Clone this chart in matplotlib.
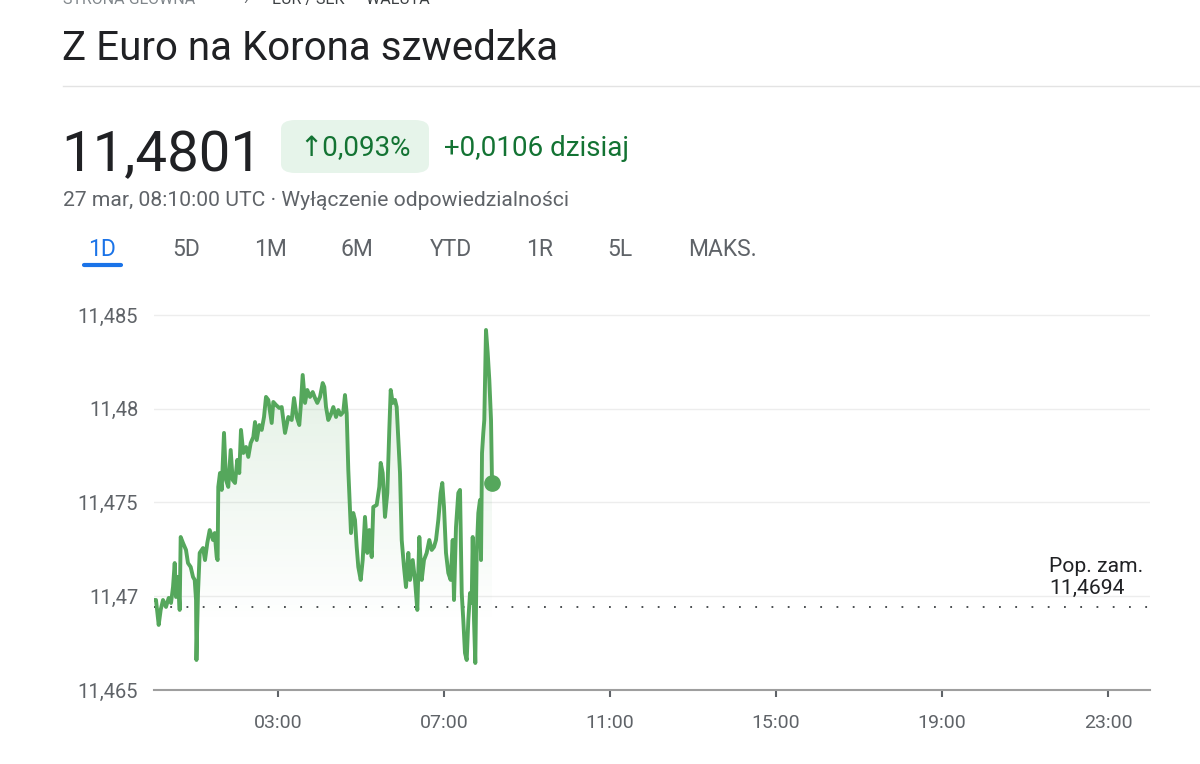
import numpy as np
import matplotlib
matplotlib.use('Agg')
import matplotlib.pyplot as plt
from matplotlib.colors import LinearSegmentedColormap
from matplotlib.patches import FancyBboxPatch

plt.rcParams['font.family'] = ['Roboto', 'DejaVu Sans']

# intraday EUR/SEK, hours since 00:00 UTC
hours = [0.012, 0.060, 0.125, 0.173, 0.229, 0.301, 0.366, 0.422, 0.470, 0.511,
         0.542, 0.590, 0.631, 0.655, 0.711, 0.783, 0.831, 0.896, 0.952, 0.993,
         1.025, 1.035, 1.072, 1.113, 1.193, 1.241, 1.296, 1.354, 1.434, 1.475,
         1.523, 1.545, 1.561, 1.602, 1.643, 1.699, 1.747, 1.802, 1.860, 1.908,
         1.964, 2.019, 2.067, 2.108, 2.164, 2.229, 2.284, 2.342, 2.405, 2.446,
         2.487, 2.549, 2.607, 2.663, 2.711, 2.766, 2.848, 2.887, 2.952, 3.031,
         3.089, 3.169, 3.248, 3.330, 3.386, 3.451, 3.513, 3.547, 3.595, 3.651,
         3.706, 3.771, 3.836, 3.892, 3.947, 4.012, 4.077, 4.116, 4.157, 4.212,
         4.270, 4.333, 4.398, 4.453, 4.511, 4.573, 4.614, 4.655, 4.694, 4.735,
         4.759, 4.776, 4.814, 4.855, 4.896, 4.935, 4.993, 5.041, 5.096, 5.152,
         5.200, 5.258, 5.296, 5.378, 5.441, 5.475, 5.523, 5.578, 5.634, 5.682,
         5.716, 5.764, 5.819, 5.860, 5.899, 5.940, 5.981, 6.036, 6.084, 6.140,
         6.181, 6.246, 6.301, 6.357, 6.405, 6.463, 6.518, 6.583, 6.646, 6.704,
         6.759, 6.807, 6.863, 6.920, 6.959, 7.000, 7.048, 7.104, 7.161, 7.210,
         7.241, 7.289, 7.345, 7.386, 7.427, 7.465, 7.506, 7.547, 7.586, 7.627,
         7.667, 7.692, 7.723, 7.754, 7.788, 7.827, 7.867, 7.892, 7.916, 7.947,
         7.971, 8.012, 8.053, 8.092, 8.133, 8.157]
rates = [11.4698, 11.4698, 11.46847, 11.46927, 11.4698, 11.46943, 11.46991, 11.46964, 11.47049, 11.47177,
         11.46996, 11.47103, 11.46927, 11.47316, 11.47284, 11.47247, 11.47177, 11.47156, 11.47103, 11.47087,
         11.4698, 11.4666, 11.47017, 11.47231, 11.47257, 11.47193, 11.47284, 11.47353, 11.473, 11.47337,
         11.47209, 11.47193, 11.47583, 11.47657, 11.47567, 11.47871, 11.4762, 11.47583, 11.4778, 11.4762,
         11.47604, 11.47727, 11.47657, 11.47887, 11.47764, 11.47796, 11.47743, 11.47817, 11.47849, 11.47929,
         11.47833, 11.47913, 11.47887, 11.47956, 11.48063, 11.48047, 11.47924, 11.48036, 11.4802, 11.48004,
         11.48009, 11.47871, 11.47956, 11.4794, 11.48057, 11.47956, 11.47913, 11.48009, 11.4818, 11.48031,
         11.481, 11.48063, 11.48089, 11.48057, 11.48031, 11.48063, 11.48137, 11.48116, 11.48009, 11.4794,
         11.47967, 11.48009, 11.47956, 11.47993, 11.47967, 11.47983, 11.48073, 11.47977, 11.47673, 11.4746,
         11.47337, 11.47407, 11.47444, 11.47407, 11.47263, 11.47156, 11.47087, 11.47193, 11.47423, 11.47231,
         11.47353, 11.47209, 11.47476, 11.47487, 11.47583, 11.47711, 11.47657, 11.47423, 11.47551, 11.47887,
         11.481, 11.48031, 11.48047, 11.48009, 11.47833, 11.47657, 11.473, 11.47156, 11.47049, 11.47231,
         11.47087, 11.47193, 11.47087, 11.46927, 11.47316, 11.47087, 11.47193, 11.47231, 11.473, 11.47247,
         11.47263, 11.473, 11.47407, 11.47551, 11.47604, 11.47476, 11.47231, 11.47124, 11.47087, 11.473,
         11.4698, 11.47369, 11.47551, 11.47567, 11.47017, 11.46873, 11.46697, 11.4666, 11.46873, 11.47017,
         11.46964, 11.47316, 11.46873, 11.46644, 11.47231, 11.47444, 11.47513, 11.47193, 11.47764, 11.47871,
         11.4794, 11.4842, 11.48297, 11.48153, 11.4794, 11.47604]
prev_close = 11.4694

y_ticks = [11.465, 11.47, 11.475, 11.48, 11.485]
y_labels = ['11,465', '11,47', '11,475', '11,48', '11,485']
x_ticks = [3, 7, 11, 15, 19, 23]
x_labels = ['03:00', '07:00', '11:00', '15:00', '19:00', '23:00']
tabs = ['1D', '5D', '1M', '6M', 'YTD', '1R', '5L', 'MAKS.']
tab_x = [102, 186, 270, 357, 451, 540, 620, 723]

green = '#55a75c'
dark = '#202124'
gray = '#5f6368'

W, H = 1200, 764
fig = plt.figure(figsize=(12, 7.64), dpi=100)

def px(x, y):
    return x / W, 1 - y / H

# header (breadcrumb is cut by the top edge, as in the screenshot)
fig.text(*px(63, 4), 'STRONA GŁÓWNA', color='#80868b', fontsize=11.5, va='baseline')
fig.text(*px(243, 4), '›', color=gray, fontsize=11.5, va='baseline')
fig.text(*px(272, 4), 'EUR / SEK  •  WALUTA', color='#3c4043', fontsize=11.5, va='baseline')
fig.text(*px(62, 60), 'Z Euro na Korona szwedzka', color=dark, fontsize=29, va='baseline')
fig.add_artist(plt.Line2D([63 / W, 1], [1 - 86 / H] * 2, color='#e3e3e3', lw=1))

fig.text(*px(61, 171), '11,4801', color=dark, fontsize=40.5, va='baseline')
pill = FancyBboxPatch((281 / W, 1 - 173 / H), 148 / W, 53 / H,
                      boxstyle='round,pad=0,rounding_size=0.012',
                      transform=fig.transFigure, fc='#e6f4ea', ec='none')
fig.add_artist(pill)
fig.text(*px(355, 149), '↑0,093%', color='#137333', fontsize=20, ha='center', va='center')
fig.text(*px(444, 149), '+0,0106 dzisiaj', color='#137333', fontsize=20, va='center')
fig.text(*px(63, 201), '27 mar, 08:10:00 UTC · Wyłączenie odpowiedzialności',
         color=gray, fontsize=15.2, va='center')

for t, xx in zip(tabs, tab_x):
    fig.text(*px(xx, 250), t, color='#1a73e8' if t == '1D' else gray,
             fontsize=16.5, ha='center', va='center')
fig.add_artist(plt.Line2D([84 / W, 121 / W], [1 - 265 / H] * 2, color='#1a73e8',
                          lw=3, solid_capstyle='round'))

# chart
ax = fig.add_axes([153.5 / W, 1 - 690 / H, 996 / W, (690 - 305.6) / H])
ylo, yhi = 11.465, 11.4855

for v in y_ticks[1:]:
    ax.axhline(v, color='#ededed', lw=1, zorder=0)

poly = ax.fill_between(hours, rates, ylo, color='none')
cmap = LinearSegmentedColormap.from_list('fade', [(0.33, 0.65, 0.36, 0.0), (0.33, 0.65, 0.36, 0.2)])
grad = np.linspace(0, 1, 256).reshape(-1, 1)
im = ax.imshow(grad, extent=[0, hours[-1], 11.4685, yhi], origin='lower',
               aspect='auto', cmap=cmap, zorder=1)
im.set_clip_path(poly.get_paths()[0], transform=ax.transData)

ax.axhline(prev_close, color='#3c4043', lw=1.3, ls=(0, (1, 8)), zorder=2)
ax.plot(hours, rates, color=green, lw=2.8, zorder=3, solid_joinstyle='round')
ax.plot(hours[-1], rates[-1], 'o', color=green, ms=11, zorder=4)

ax.annotate('Pop. zam.\n11,4694', xy=((1049 - 153.5) / 41.5, prev_close), xytext=(0, 7),
            textcoords='offset points', ha='left', va='bottom', color=dark,
            fontsize=15.2, linespacing=1.2)

ax.set_xlim(0, 24)
ax.set_ylim(ylo, yhi)
ax.set_yticks(y_ticks, y_labels)
ax.set_xticks(x_ticks, x_labels)
ax.tick_params(axis='y', length=0, pad=11, labelsize=14.5, labelcolor=gray)
ax.tick_params(axis='x', length=5, width=1.5, color='#5f6368', pad=12,
               labelsize=14, labelcolor=gray)
for s in ['top', 'right', 'left']:
    ax.spines[s].set_visible(False)
ax.spines['bottom'].set_color('#9e9e9e')
ax.spines['bottom'].set_linewidth(1.5)
ax.patch.set_alpha(0)

fig.savefig('out.png', dpi=100)
